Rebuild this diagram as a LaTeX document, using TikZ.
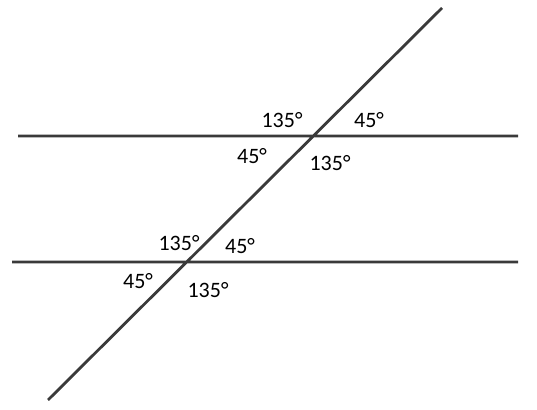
\documentclass[tikz,border=0pt]{standalone}
\usepackage{fontspec}
\setmainfont{Carlito}
\definecolor{linegray}{HTML}{3A3A3A}
\begin{document}
\begin{tikzpicture}[x=1pt, y=1pt, every node/.style={font=\fontsize{22}{26}\selectfont, inner sep=0pt}]
			\useasboundingbox (0,0) rectangle (537,409);
			\coordinate (A1) at (18,273);
			\coordinate (A2) at (518,273);
			\coordinate (B1) at (12,147);
			\coordinate (B2) at (518,147);
			\coordinate (T1) at (442,401);
			\coordinate (T2) at (48,9);
			
			\draw[linegray, line width=2.8pt] (A1) -- (A2)
			(B1) -- (B2)
			(T1) -- (T2);
			
			\node at (282,289) (P1) {135°};
			\node at (369,289) (P2) {45°};
			\node at (252,253) (P3) {45°};
			\node at (330,246) (P4) {135°};
			\node at (179,166) (Q1) {135°};
			\node at (240,163) (Q2) {45°};
			\node at (138,128) (Q3) {45°};
			\node at (208,119) (Q4) {135°};
		\end{tikzpicture}
\end{document}
